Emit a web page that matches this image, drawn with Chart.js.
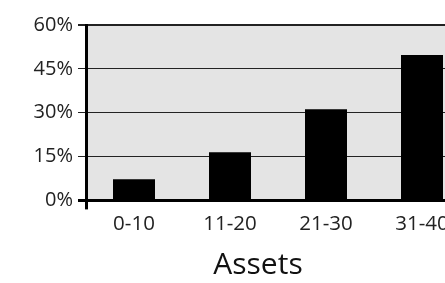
<!DOCTYPE html>
<html>
<head>
<meta charset="utf-8">
<script src="https://cdn.jsdelivr.net/npm/chart.js@4/dist/chart.umd.min.js"></script>
<style>
html, body { margin: 0; padding: 0; overflow: hidden; background: #fff; }
#wrap { width: 530px; height: 283px; position: relative; }
</style>
</head>
<body>
<div id="wrap"><canvas id="c"></canvas></div>
<script>
const categories = ["0-10", "11-20", "21-30", "31-40"];
const shares = [7.2, 16.5, 31.2, 49.7];
const yTicks = [0, 15, 30, 45, 60];
const axisTitle = "Assets";

const plotBg = {
  id: 'plotBg',
  beforeDraw(chart) {
    const a = chart.chartArea, ctx = chart.ctx;
    ctx.save();
    ctx.fillStyle = '#e4e4e4';
    ctx.fillRect(a.left, a.top, a.right - a.left, a.bottom - a.top);
    ctx.restore();
  }
};

new Chart(document.getElementById('c'), {
  type: 'bar',
  data: {
    labels: categories,
    datasets: [{ data: shares, backgroundColor: '#000', borderWidth: 0,
      categoryPercentage: 1, barPercentage: 0.4375 }]
  },
  plugins: [plotBg],
  options: {
    responsive: true,
    maintainAspectRatio: false,
    animation: false,
    layout: { padding: { left: 0, right: 14, top: 25, bottom: 0 } },
    plugins: {
      legend: { display: false },
      tooltip: { enabled: false },
      title: {
        display: true, text: axisTitle, position: 'bottom',
        color: '#111', font: { family: 'Open Sans', size: 30, weight: 'normal' },
        padding: { top: 9, bottom: 0 }
      }
    },
    scales: {
      x: {
        border: { display: true, color: '#000', width: 3 },
        grid: {
          display: true, drawOnChartArea: false, offset: true, tickLength: 9,
          color: (c) => c.index === 0 ? '#000' : 'rgba(0,0,0,0)', lineWidth: 3
        },
        ticks: { color: '#222', padding: 2, font: { family: 'Open Sans', size: 20.5 } }
      },
      y: {
        min: 0, max: 60,
        afterBuildTicks: (s) => { s.ticks = yTicks.map(v => ({ value: v })); },
        afterFit: (s) => { s.width = 86; },
        border: { display: true, color: '#000', width: 3 },
        grid: {
          tickLength: 8,
          color: (c) => c.index === 0 ? '#000' : '#222',
          lineWidth: (c) => c.index === 0 ? 3 : (c.index === 4 ? 2 : 1)
        },
        ticks: { color: '#222', padding: 5, font: { family: 'Open Sans', size: 20 },
          callback: (v) => v + '%' }
      },
      yR: {
        position: 'right', min: 0, max: 60,
        afterFit: (s) => { s.width = 46; },
        border: { display: false },
        grid: { display: false },
        ticks: { display: false }
      }
    }
  }
});
</script>
</body>
</html>
